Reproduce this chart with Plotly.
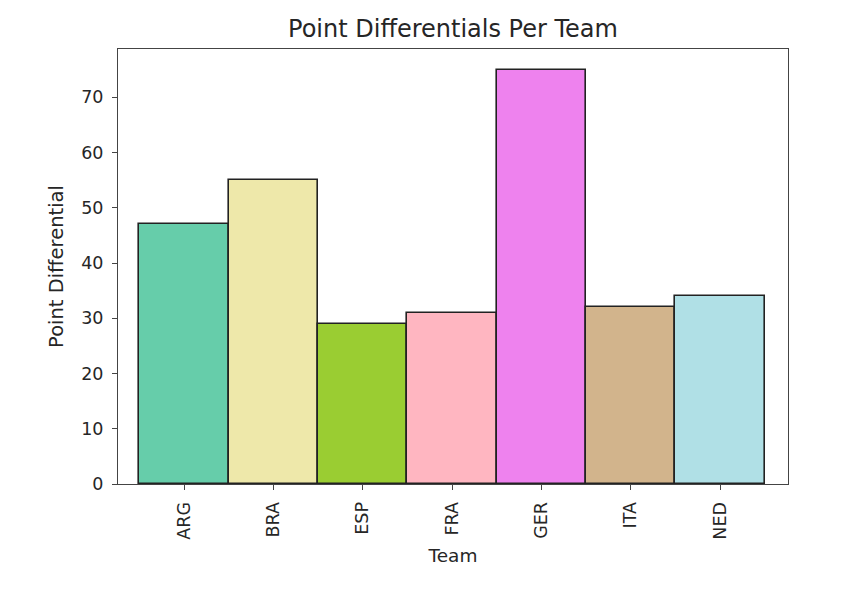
import plotly.graph_objects as go

teams = ["ARG", "BRA", "ESP", "FRA", "GER", "ITA", "NED"]
point_diff = [47, 55, 29, 31, 75, 32, 34]
bar_colors = ["#66CDAA", "#EEE8AA", "#9ACD32", "#FFB6C1", "#EE82EE", "#D2B48C", "#B0E0E6"]
y_ticks = [0, 10, 20, 30, 40, 50, 60, 70]

fig = go.Figure(
    go.Bar(
        x=list(range(len(teams))),
        y=point_diff,
        width=1.0,
        marker=dict(color=bar_colors, line=dict(color="#222222", width=1.6)),
    )
)

font_family = "DejaVu Sans"
text_color = "#262626"
fig.update_layout(
    width=848,
    height=598,
    margin=dict(l=110, r=68, t=41, b=122),
    paper_bgcolor="white",
    plot_bgcolor="white",
    showlegend=False,
    font=dict(family=font_family, color=text_color, size=17),
    title=dict(
        text="Point Differentials Per Team",
        x=445 / 848,
        xanchor="center",
        y=1 - 21 / 598,
        yanchor="middle",
        font=dict(size=24, family=font_family, color=text_color),
    ),
    bargap=0,
)

fig.update_xaxes(
    range=[-0.74, 6.76],
    tickmode="array",
    tickvals=list(range(len(teams))),
    ticktext=teams,
    tickangle=-90,
    ticks="outside",
    ticklen=5,
    tickcolor="#444444",
    tickfont=dict(size=17.5),
    ticklabelstandoff=5,
    showline=True,
    linecolor="#444444",
    linewidth=1,
    mirror=True,
    showgrid=False,
    zeroline=False,
    title=dict(text="Team", font=dict(size=18.5), standoff=10),
)
fig.update_yaxes(
    range=[0, 78.75],
    tickmode="array",
    tickvals=y_ticks,
    ticks="outside",
    ticklen=5,
    tickcolor="#444444",
    tickfont=dict(size=17.5),
    ticklabelstandoff=5,
    showline=True,
    linecolor="#444444",
    linewidth=1,
    mirror=True,
    showgrid=False,
    zeroline=False,
    title=dict(text="Point Differential", font=dict(size=19.5), standoff=12),
)

fig.write_html("out.html")
